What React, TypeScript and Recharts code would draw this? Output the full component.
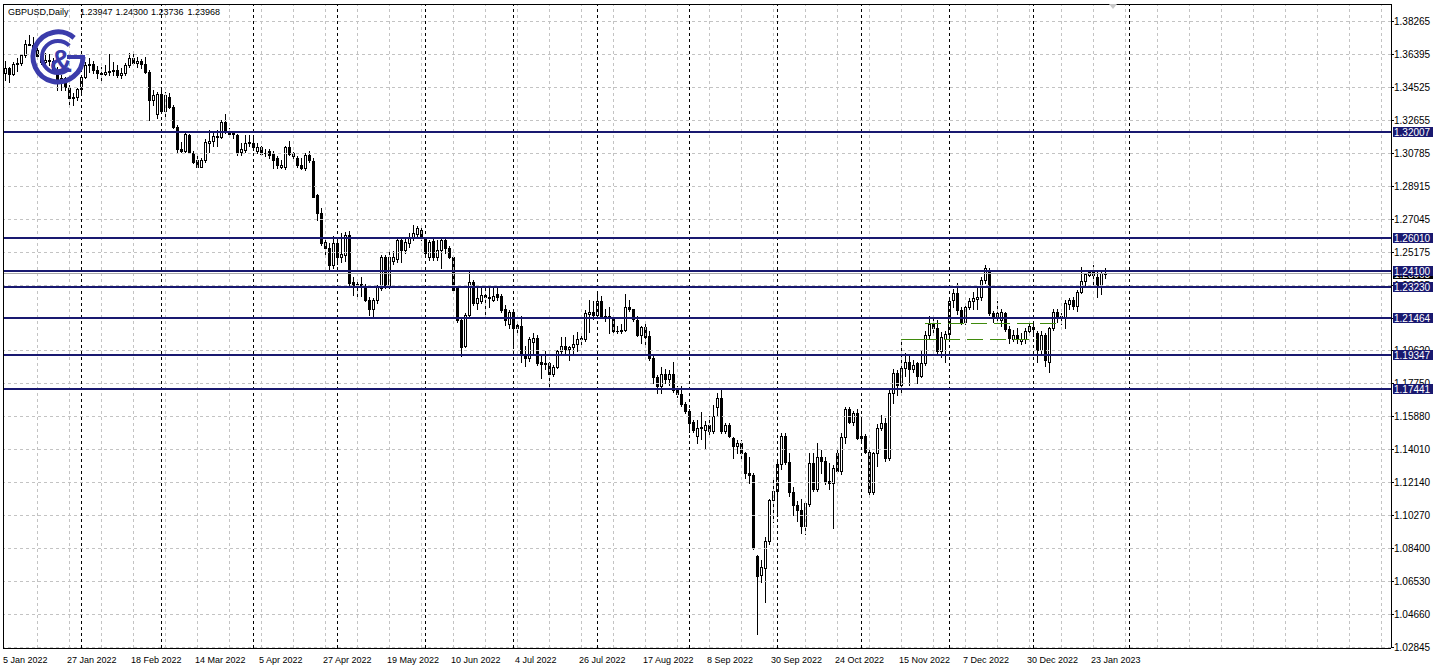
import React from 'react';
import { ComposedChart, Bar, XAxis, YAxis, ReferenceLine } from 'recharts';

// ---- daily OHLC, GBPUSD, 5 Jan 2022 .. 26 Jan 2023 ----
const opens = [
  1.3530,1.3560,1.3528,1.3583,1.3590,1.3632,1.3697,1.3690,1.3665,1.3630,
  1.3595,1.3608,1.3602,1.3549,1.3493,1.3502,1.3455,1.3389,1.3395,1.3440,
  1.3512,1.3578,1.3585,1.3549,1.3530,1.3528,1.3540,1.3545,1.3552,1.3521,
  1.3530,1.3578,1.3615,1.3587,1.3600,1.3581,1.3540,1.3380,1.3300,1.3415,
  1.3320,1.3398,1.3342,1.3225,1.3105,1.3093,1.3184,1.3080,1.3040,1.3003,
  1.3040,1.3138,1.3150,1.3176,1.3170,1.3257,1.3205,1.3195,1.3180,1.3085,
  1.3097,1.3135,1.3135,1.3090,1.3116,1.3080,1.3090,1.3080,1.3050,1.3003,
  1.3003,1.3116,1.3078,1.3050,1.3010,1.2993,1.3068,1.3035,1.2840,1.2740,
  1.2575,1.2540,1.2446,1.2569,1.2494,1.2500,1.2616,1.2350,1.2326,1.2340,
  1.2330,1.2250,1.2196,1.2248,1.2315,1.2494,1.2324,1.2470,1.2480,1.2588,
  1.2531,1.2570,1.2600,1.2620,1.2645,1.2597,1.2490,1.2580,1.2490,1.2530,
  1.2588,1.2545,1.2494,1.2314,1.2135,1.1990,1.2164,1.2352,1.2230,1.2240,
  1.2277,1.2265,1.2250,1.2280,1.2270,1.2195,1.2110,1.2180,1.2105,1.2100,
  1.1940,1.1920,1.2010,1.2035,1.1895,1.1885,1.1890,1.1830,1.1870,1.1960,
  1.1990,1.1970,1.1985,1.2000,1.2035,1.2025,1.2170,1.2180,1.2165,1.2240,
  1.2160,1.2155,1.2145,1.2075,1.2070,1.2078,1.2211,1.2195,1.2135,1.2050,
  1.2094,1.2045,1.1919,1.1815,1.1760,1.1830,1.1800,1.1830,1.1740,1.1715,
  1.1660,1.1620,1.1560,1.1480,1.1522,1.1513,1.1540,1.1505,1.1640,1.1692,
  1.1505,1.1540,1.1466,1.1420,1.1440,1.1380,1.1268,1.1258,1.0800,1.0690,
  1.0730,1.0885,1.1116,1.1165,1.1320,1.1480,1.1330,1.1160,1.1090,1.1060,
  1.0970,1.1095,1.1325,1.1180,1.1360,1.1340,1.1225,1.1210,1.1380,1.1280,
  1.1475,1.1630,1.1560,1.1610,1.1470,1.1480,1.1390,1.1160,1.1380,1.1525,
  1.1550,1.1355,1.1720,1.1835,1.1765,1.1862,1.1900,1.1860,1.1890,1.1820,
  1.1890,1.2050,1.2110,1.2090,1.1960,1.2030,1.2055,1.2250,1.2285,1.2190,
  1.2125,1.2210,1.2240,1.2255,1.2267,1.2362,1.2420,1.2175,1.2155,1.2135,
  1.2175,1.2085,1.2028,1.2050,1.2015,1.2030,1.2075,1.2085,1.2060,1.1965,
  1.2050,1.1900,1.2090,1.2180,1.2160,1.2150,1.2225,1.2250,1.2215,1.2295,
  1.2355,1.2390,1.2408,1.2380,1.2325,1.23947,
];
const highs = [
  1.3600,1.3568,1.3596,1.3615,1.3640,1.3720,1.3747,1.3735,1.3680,1.3644,
  1.3644,1.3640,1.3615,1.3568,1.3521,1.3512,1.3464,1.3417,1.3446,1.3521,
  1.3596,1.3615,1.3600,1.3570,1.3568,1.3578,1.3640,1.3596,1.3578,1.3559,
  1.3587,1.3644,1.3644,1.3625,1.3610,1.3625,1.3549,1.3436,1.3427,1.3446,
  1.3427,1.3417,1.3351,1.3240,1.3144,1.3200,1.3190,1.3090,1.3060,1.3050,
  1.3157,1.3210,1.3191,1.3210,1.3267,1.3300,1.3220,1.3207,1.3185,1.3135,
  1.3182,1.3182,1.3182,1.3135,1.3120,1.3105,1.3105,1.3090,1.3060,1.3040,
  1.3120,1.3150,1.3085,1.3060,1.3050,1.3078,1.3090,1.3050,1.2850,1.2770,
  1.2607,1.2569,1.2610,1.2607,1.2625,1.2630,1.2638,1.2380,1.2360,1.2380,
  1.2340,1.2265,1.2260,1.2334,1.2503,1.2503,1.2531,1.2524,1.2597,1.2597,
  1.2597,1.2625,1.2672,1.2668,1.2665,1.2607,1.2588,1.2597,1.2590,1.2597,
  1.2607,1.2555,1.2503,1.2324,1.2145,1.2175,1.2409,1.2362,1.2324,1.2324,
  1.2320,1.2324,1.2324,1.2315,1.2280,1.2220,1.2190,1.2190,1.2120,1.2160,
  1.1990,1.2040,1.2060,1.2050,1.1930,1.1960,1.1900,1.1880,1.1965,1.2040,
  1.2040,1.1990,1.2050,1.2065,1.2060,1.2190,1.2250,1.2245,1.2293,1.2270,
  1.2200,1.2210,1.2160,1.2100,1.2110,1.2280,1.2250,1.2200,1.2155,1.2100,
  1.2120,1.2070,1.1930,1.1825,1.1870,1.1855,1.1850,1.1900,1.1760,1.1760,
  1.1670,1.1630,1.1570,1.1570,1.1615,1.1565,1.1590,1.1655,1.1720,1.1740,
  1.1550,1.1550,1.1475,1.1455,1.1455,1.1390,1.1362,1.1272,1.0805,1.0775,
  1.0910,1.1120,1.1235,1.1330,1.1495,1.1495,1.1380,1.1190,1.1110,1.1120,
  1.1105,1.1380,1.1380,1.1440,1.1400,1.1360,1.1325,1.1315,1.1410,1.1495,
  1.1645,1.1645,1.1620,1.1630,1.1570,1.1490,1.1400,1.1390,1.1545,1.1600,
  1.1580,1.1740,1.1860,1.1850,1.2028,1.1950,1.1940,1.1910,1.1900,1.1960,
  1.2075,1.2155,1.2150,1.2135,1.2065,1.2070,1.2250,1.2310,1.2345,1.2210,
  1.2220,1.2257,1.2295,1.2315,1.2380,1.2446,1.2430,1.2185,1.2240,1.2195,
  1.2180,1.2100,1.2080,1.2090,1.2060,1.2090,1.2110,1.2115,1.2075,1.2070,
  1.2060,1.2095,1.2200,1.2200,1.2175,1.2250,1.2258,1.2265,1.2305,1.2435,
  1.2400,1.2418,1.2448,1.2410,1.2410,1.24300,
];
const lows = [
  1.3495,1.3483,1.3521,1.3545,1.3578,1.3625,1.3688,1.3658,1.3620,1.3583,
  1.3585,1.3580,1.3540,1.3436,1.3436,1.3436,1.3358,1.3351,1.3380,1.3427,
  1.3502,1.3540,1.3530,1.3502,1.3495,1.3521,1.3521,1.3521,1.3512,1.3502,
  1.3521,1.3568,1.3578,1.3568,1.3559,1.3530,1.3266,1.3351,1.3276,1.3304,
  1.3266,1.3333,1.3219,1.3085,1.3087,1.3087,1.3078,1.3021,1.3000,1.3000,
  1.3030,1.3085,1.3118,1.3120,1.3165,1.3191,1.3172,1.3165,1.3068,1.3070,
  1.3085,1.3120,1.3097,1.3080,1.3066,1.3060,1.3050,1.2994,1.2994,1.2994,
  1.2990,1.3070,1.3050,1.3000,1.2990,1.2985,1.3030,1.2828,1.2700,1.2560,
  1.2503,1.2411,1.2430,1.2450,1.2465,1.2470,1.2333,1.2277,1.2266,1.2270,
  1.2240,1.2165,1.2155,1.2230,1.2305,1.2315,1.2315,1.2450,1.2465,1.2465,
  1.2512,1.2550,1.2590,1.2600,1.2590,1.2503,1.2475,1.2475,1.2475,1.2430,
  1.2512,1.2485,1.2305,1.2126,1.1934,1.1985,1.2155,1.2220,1.2200,1.2230,
  1.2160,1.2210,1.2240,1.2250,1.2180,1.2105,1.2088,1.1975,1.2060,1.1900,
  1.1875,1.1905,1.1950,1.1880,1.1805,1.1855,1.1760,1.1820,1.1862,1.1950,
  1.1940,1.1908,1.1950,1.1960,1.2000,1.2015,1.2065,1.2140,1.2155,1.2155,
  1.2130,1.2060,1.2060,1.2060,1.2060,1.2070,1.2185,1.2130,1.2045,1.2005,
  1.2000,1.1910,1.1780,1.1720,1.1720,1.1780,1.1770,1.1730,1.1700,1.1650,
  1.1610,1.1500,1.1500,1.1440,1.1460,1.1405,1.1480,1.1495,1.1600,1.1495,
  1.1495,1.1475,1.1355,1.1380,1.1355,1.1240,1.1212,1.0840,1.0359,1.0655,
  1.0540,1.0870,1.0990,1.1025,1.1290,1.1320,1.1140,1.1030,1.1000,1.0930,
  1.0925,1.1080,1.1170,1.1170,1.1270,1.1205,1.1180,1.0960,1.1270,1.1265,
  1.1440,1.1550,1.1540,1.1460,1.1440,1.1380,1.1150,1.1150,1.1310,1.1510,
  1.1340,1.1345,1.1665,1.1710,1.1720,1.1820,1.1765,1.1840,1.1780,1.1810,
  1.1880,1.2035,1.2060,1.1950,1.1925,1.1900,1.2030,1.2210,1.2170,1.2115,
  1.2115,1.2195,1.2200,1.2200,1.2250,1.2345,1.2165,1.2125,1.2130,1.2100,
  1.2070,1.2005,1.2015,1.2005,1.2000,1.2005,1.2060,1.2045,1.1900,1.1950,
  1.1875,1.1843,1.2080,1.2125,1.2110,1.2090,1.2200,1.2195,1.2185,1.2285,
  1.2325,1.2385,1.2325,1.2265,1.2280,1.23736,
];
const closes = [
  1.3560,1.3528,1.3583,1.3590,1.3632,1.3697,1.3690,1.3665,1.3630,1.3595,
  1.3608,1.3602,1.3549,1.3493,1.3502,1.3455,1.3389,1.3395,1.3440,1.3512,
  1.3578,1.3585,1.3549,1.3530,1.3528,1.3540,1.3545,1.3552,1.3521,1.3530,
  1.3578,1.3615,1.3587,1.3600,1.3581,1.3540,1.3380,1.3408,1.3415,1.3320,
  1.3408,1.3342,1.3229,1.3100,1.3093,1.3190,1.3080,1.3031,1.3003,1.3040,
  1.3144,1.3150,1.3176,1.3170,1.3257,1.3200,1.3187,1.3190,1.3078,1.3100,
  1.3135,1.3140,1.3116,1.3115,1.3076,1.3077,1.3070,1.3040,1.3010,1.3010,
  1.3116,1.3076,1.3060,1.3010,1.2993,1.3068,1.3040,1.2833,1.2740,1.2569,
  1.2545,1.2446,1.2569,1.2494,1.2510,1.2616,1.2343,1.2324,1.2340,1.2320,
  1.2250,1.2195,1.2248,1.2324,1.2494,1.2324,1.2494,1.2494,1.2588,1.2531,
  1.2578,1.2607,1.2625,1.2654,1.2607,1.2512,1.2578,1.2494,1.2531,1.2588,
  1.2540,1.2494,1.2305,1.2135,1.1985,1.2164,1.2352,1.2230,1.2260,1.2277,
  1.2265,1.2258,1.2270,1.2265,1.2192,1.2135,1.2180,1.2090,1.2090,1.1940,
  1.1920,1.2030,1.2035,1.1890,1.1885,1.1890,1.1830,1.1870,1.1960,1.1990,
  1.1970,1.1985,1.2000,1.2030,1.2025,1.2173,1.2180,1.2165,1.2240,1.2160,
  1.2150,1.2145,1.2075,1.2070,1.2078,1.2211,1.2195,1.2140,1.2050,1.2094,
  1.2040,1.1919,1.1815,1.1760,1.1830,1.1800,1.1830,1.1740,1.1715,1.1660,
  1.1620,1.1555,1.1510,1.1522,1.1530,1.1540,1.1505,1.1590,1.1692,1.1505,
  1.1540,1.1476,1.1420,1.1440,1.1382,1.1268,1.1258,1.0845,1.0684,1.0740,
  1.0885,1.1116,1.1165,1.1320,1.1480,1.1330,1.1160,1.1090,1.1060,1.0970,
  1.1100,1.1325,1.1180,1.1360,1.1340,1.1220,1.1210,1.1295,1.1280,1.1475,
  1.1630,1.1560,1.1610,1.1470,1.1480,1.1390,1.1160,1.1380,1.1525,1.1550,
  1.1355,1.1720,1.1835,1.1765,1.1862,1.1900,1.1860,1.1880,1.1820,1.1890,
  1.2050,1.2110,1.2090,1.1960,1.2040,1.2055,1.2240,1.2285,1.2190,1.2125,
  1.2210,1.2240,1.2258,1.2267,1.2362,1.2430,1.2175,1.2155,1.2175,1.2180,
  1.2085,1.2032,1.2050,1.2025,1.2030,1.2075,1.2100,1.2098,1.1965,1.2050,
  1.1910,1.2090,1.2180,1.2160,1.2150,1.2230,1.2250,1.2215,1.2295,1.2355,
  1.2398,1.2408,1.2390,1.2335,1.2400,1.23968,
];

const dateLabels = [
  '5 Jan 2022', '27 Jan 2022', '18 Feb 2022', '14 Mar 2022', '5 Apr 2022', '27 Apr 2022',
  '19 May 2022', '10 Jun 2022', '4 Jul 2022', '26 Jul 2022', '17 Aug 2022', '8 Sep 2022',
  '30 Sep 2022', '24 Oct 2022', '15 Nov 2022', '7 Dec 2022', '30 Dec 2022', '23 Jan 2023',
];
const LABEL_EVERY = 16;
const GRID_EVERY = 8;
const monthStarts = [19, 39, 62, 83, 105, 127, 148, 171, 193, 214, 236, 257, 281];
const priceTicks = [
  1.38265, 1.36395, 1.34525, 1.32655, 1.30785, 1.28915, 1.27045, 1.25175, 1.23305, 1.21435,
  1.1962, 1.1775, 1.1588, 1.1401, 1.1214, 1.1027, 1.084, 1.0653, 1.0466, 1.02845,
];
const levels = [1.32007, 1.2601, 1.241, 1.2323, 1.21464, 1.19347, 1.17441];
const currentPrice = 1.23968;
const greenSolid = { from: 224, to: 229, price: 1.2026 };
const greenDashA = { from: 229, to: 258, price: 1.2026 };
const greenDashB = { from: 230, to: 264, price: 1.21127 };
const TOTAL_SLOTS = 347;
const Y_MIN = 1.02793;
const Y_MAX = 1.39227;

const NAVY = '#191970';
const GRID = '#c3c3c3';
const GREEN = '#3f8a0c';
const FONT = '"Liberation Sans", Arial, sans-serif';

const data = Array.from({ length: TOTAL_SLOTS }, (_, i) =>
  i < closes.length
    ? { i, range: [lows[i], highs[i]], o: opens[i], h: highs[i], l: lows[i], c: closes[i] }
    : { i }
);
const gridIdx: number[] = [];
for (let k = GRID_EVERY; k < TOTAL_SLOTS; k += GRID_EVERY) gridIdx.push(k);

// axis ticks: plain price labels first, then the price tags drawn over them
const axisTicks = [...priceTicks, currentPrice, ...levels];
const tagColor = (v: number) => (v === currentPrice ? '#000' : levels.includes(v) ? NAVY : null);

const fmt = (v: number) => v.toFixed(5);

const Candle = (props: any) => {
  const { x, y, height, payload } = props;
  if (!payload || payload.o == null || height == null) return <g />;
  const { o, h, l, c } = payload;
  const span = h - l;
  const k = span > 0 ? height / span : 0;
  const yO = y + (h - o) * k;
  const yC = y + (h - c) * k;
  const x0 = Math.round(x);
  const cx = x0 + 2.5;
  const top = Math.round(Math.min(yO, yC)) + 0.5;
  const bot = Math.max(top, Math.round(Math.max(yO, yC)) + 0.5);
  const bull = c >= o;
  return (
    <g>
      <line x1={cx} x2={cx} y1={Math.round(y)} y2={Math.round(y + height) + 1} stroke="#000" strokeWidth={1} />
      {bot - top < 1 ? (
        <line x1={x0 + 1} x2={x0 + 4} y1={top} y2={top} stroke="#000" strokeWidth={1} />
      ) : (
        <rect x={x0 + 1.5} y={top} width={2} height={bot - top} fill={bull ? '#fff' : '#000'} stroke="#000" strokeWidth={1} />
      )}
    </g>
  );
};

const hShape = (stroke: string, w: number, dash?: string) => (p: any) => {
  const yy = w % 2 === 1 ? Math.floor(p.y1) + 0.5 : Math.round(p.y1);
  return <line x1={p.x1} x2={p.x2} y1={yy} y2={yy} stroke={stroke} strokeWidth={w} strokeDasharray={dash} />;
};
const vShape = (stroke: string, dash?: string) => (p: any) => {
  const xx = Math.floor(p.x1) + 0.5;
  return <line x1={xx} x2={xx} y1={p.y1} y2={p.y2} stroke={stroke} strokeWidth={1} strokeDasharray={dash} />;
};

const XTick = (props: any) => {
  const { x, y, payload } = props;
  const v = payload?.value;
  if (v == null || v % LABEL_EVERY !== 0) return <g />;
  const label = dateLabels[v / LABEL_EVERY];
  if (!label) return <g />;
  return (
    <text x={x - 2} y={y + 15} fontSize={9} fontFamily={FONT} fill="#000" textAnchor="start">{label}</text>
  );
};

const YTick = (props: any) => {
  const { x, y, payload } = props;
  const v = payload.value;
  const bg = tagColor(v);
  if (bg) {
    const yy = Math.round(y);
    return (
      <g>
        <rect x={x + 2} y={yy - 5} width={40} height={10} fill={bg} />
        <text x={x + 3} y={yy + 4} fontSize={10} fontFamily={FONT} fill="#fff" textAnchor="start">{fmt(v)}</text>
      </g>
    );
  }
  const yy = Math.floor(y) + 0.5;
  return (
    <g>
      <line x1={x} x2={x + 3} y1={yy} y2={yy} stroke="#000" />
      <text x={x + 3} y={y + 3.5} fontSize={10} fontFamily={FONT} fill="#000" textAnchor="start">{fmt(v)}</text>
    </g>
  );
};

const Logo = () => (
  <g>
    <g fill="none" stroke="#3b3cab">
      <path d="M 74.1 37.8 A 25 25 0 1 0 83 57" strokeWidth={5} />
      <line x1={67} y1={57} x2={85} y2={57} strokeWidth={4} />
      <path d="M 69.3 45.7 A 16 16 0 1 0 69.3 68.3" strokeWidth={4} />
    </g>
    <text x={61} y={72} fontSize={31} fontWeight="bold" fontFamily={FONT} fill="#3b3cab" textAnchor="middle">&amp;</text>
  </g>
);

export default function App() {
  return (
    <div style={{ position: 'absolute', left: 0, top: 0, width: 1438, height: 671, background: '#fff' }}>
      <ComposedChart
        width={1438}
        height={671}
        data={data}
        margin={{ top: 4, right: 0, bottom: 0, left: 3 }}
        barCategoryGap={0}
        barGap={0}
      >
        <XAxis
          dataKey="i"
          type="category"
          interval={0}
          height={23}
          tickLine={false}
          axisLine={false}
          tickSize={0}
          tickMargin={0}
          tick={<XTick />}
        />
        <YAxis
          orientation="right"
          type="number"
          domain={[Y_MIN, Y_MAX]}
          allowDataOverflow
          ticks={axisTicks}
          interval={0}
          width={47}
          tickLine={false}
          axisLine={false}
          tickSize={0}
          tickMargin={0}
          tick={<YTick />}
        />
        {priceTicks.map((p) => (
          <ReferenceLine key={'hg' + p} y={p} shape={hShape(GRID, 1, '3 3')} />
        ))}
        {gridIdx.map((k) => (
          <ReferenceLine key={'vg' + k} x={k} shape={vShape(GRID, '3 3')} />
        ))}
        {monthStarts.map((k) => (
          <ReferenceLine key={'ms' + k} x={k} shape={vShape('#000', '3 3')} />
        ))}
        <Bar dataKey="range" shape={Candle} isAnimationActive={false} />
        <ReferenceLine y={currentPrice} shape={hShape('#a8a8a8', 1)} />
        {levels.map((p) => (
          <ReferenceLine key={'lv' + p} y={p} shape={hShape(NAVY, 2)} />
        ))}
        <ReferenceLine
          segment={[{ x: greenSolid.from, y: greenSolid.price }, { x: greenSolid.to, y: greenSolid.price }]}
          shape={hShape(GREEN, 1)}
        />
        <ReferenceLine
          segment={[{ x: greenDashA.from, y: greenDashA.price }, { x: greenDashA.to, y: greenDashA.price }]}
          shape={hShape(GREEN, 1, '16 7')}
        />
        <ReferenceLine
          segment={[{ x: greenDashB.from, y: greenDashB.price }, { x: greenDashB.to, y: greenDashB.price }]}
          shape={hShape(GREEN, 1, '16 7')}
        />
        <ReferenceLine y={Y_MAX} shape={hShape('#000', 1)} />
        <ReferenceLine y={Y_MIN} shape={hShape('#000', 1)} />
        <ReferenceLine x={0} position="start" shape={vShape('#000')} />
        <ReferenceLine x={TOTAL_SLOTS - 1} position="end" shape={vShape('#000')} />
      </ComposedChart>
      <svg width={1438} height={671} style={{ position: 'absolute', left: 0, top: 0, pointerEvents: 'none' }}>
        <Logo />
        <g fontSize={9} fontFamily={FONT} fill="#000">
          <text x={8} y={15}>GBPUSD,Daily</text>
          <text x={80} y={15}>{fmt(opens[opens.length - 1])}</text>
          <text x={115.5} y={15}>{fmt(highs[highs.length - 1])}</text>
          <text x={151} y={15}>{fmt(lows[lows.length - 1])}</text>
          <text x={187.5} y={15}>{fmt(closes[closes.length - 1])}</text>
        </g>
        <polygon points="1109,4 1117,4 1113,9" fill="#c8c8c8" />
      </svg>
    </div>
  );
}
